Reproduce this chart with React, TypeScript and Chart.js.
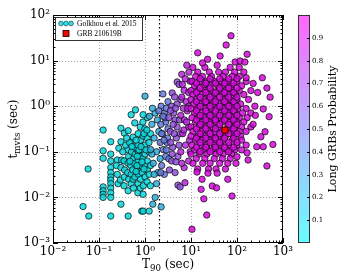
import { useEffect, useRef } from "react";
import { Chart, registerables } from "chart.js";

Chart.register(...registerables);

// ---------- axes / ticks ----------
const xMajorTicks = [0.01, 0.1, 1, 10, 100, 1000];
const yMajorTicks = [0.001, 0.01, 0.1, 1, 10, 100];
const minorMultipliers = [2, 3, 4, 5, 6, 7, 8, 9];
const colorbarTicks = [0.1, 0.2, 0.3, 0.4, 0.5, 0.6, 0.7, 0.8, 0.9];
const shortLongBoundary = 2; // T90 = 2 s

const xTitle = ["T", "90", " (sec)"];
const yTitle = ["t", "mvts", " (sec)"];
const colorbarTitle = "Long GRBs Probability";
const legendLabels = ["Golkhou et al. 2015", "GRB 210619B"];

// ---------- data: [T90 (s), t_mvts (s)] ----------
// probability of each group (colour through the "cool" colormap)
const groupProbability = [0.03, 0.22, 0.45, 0.65, 0.83, 0.97, 0.97];

const cyanPoints: [number, number][] = [
  [0.045, 0.0063], [0.06, 0.0039], [0.058, 0.042], [0.123, 0.3], [0.5, 0.65],
  [0.123, 0.105], [0.123, 0.072], [0.123, 0.017], [0.123, 0.014], [0.123, 0.0117], [0.123, 0.01],
  [0.18, 0.166], [0.18, 0.089], [0.18, 0.063], [0.18, 0.045], [0.18, 0.035], [0.18, 0.028],
  [0.18, 0.024], [0.18, 0.02], [0.18, 0.016], [0.18, 0.0126], [0.18, 0.01], [0.18, 0.0039],
  [0.25, 0.066], [0.24, 0.05], [0.25, 0.032], [0.26, 0.02],
  [0.3, 0.33], [0.3, 0.166], [0.31, 0.066], [0.3, 0.045], [0.29, 0.024], [0.3, 0.0071],
  [0.355, 0.257], [0.35, 0.063], [0.36, 0.04], [0.355, 0.028], [0.35, 0.018],
  [0.43, 0.29], [0.42, 0.112], [0.44, 0.079], [0.43, 0.056], [0.42, 0.035], [0.44, 0.025],
  [0.43, 0.014], [0.43, 0.0039],
  [0.5, 0.166], [0.51, 0.1], [0.49, 0.05], [0.5, 0.032], [0.5, 0.02],
  [0.55, 0.21], [0.56, 0.071], [0.54, 0.04], [0.55, 0.025], [0.56, 0.016],
  [0.6, 0.43], [0.6, 0.126], [0.61, 0.089], [0.59, 0.056], [0.6, 0.028],
  [0.71, 0.25], [0.7, 0.14], [0.72, 0.1], [0.71, 0.063], [0.7, 0.045], [0.72, 0.032],
  [0.71, 0.02], [0.7, 0.0126],
  [0.79, 0.35], [0.8, 0.18], [0.78, 0.079], [0.79, 0.05], [0.8, 0.025], [0.79, 0.016],
  [0.85, 0.005], [0.85, 0.112], [0.86, 0.035],
  [0.91, 0.005], [0.91, 0.0117], [0.92, 0.018], [0.9, 0.071], [0.91, 0.22], [0.9, 0.45],
  [1.0, 0.14], [1.0, 0.089], [1.01, 0.05], [1.0, 0.028], [0.99, 0.32],
  [1.12, 0.2], [1.12, 0.063], [1.13, 0.04], [1.11, 0.022], [1.12, 0.56],
  [1.23, 0.005], [1.23, 0.1], [1.22, 0.16], [1.23, 0.032],
  [1.32, 0.25], [1.32, 0.05], [1.31, 0.018],
  [0.27, 0.12], [0.33, 0.1], [0.38, 0.14], [0.46, 0.16], [0.52, 0.13], [0.64, 0.18],
  [0.68, 0.08], [0.74, 0.11], [0.82, 0.13], [0.95, 0.25], [0.4, 0.2], [0.47, 0.062],
  [0.64, 0.037], [0.67, 0.05], [0.86, 0.06], [0.95, 0.042], [1.05, 0.11], [1.1, 0.3],
  [0.62, 0.83], [0.91, 0.65],
];

const lightBluePoints: [number, number][] = [
  [1.0, 1.66], [1.48, 0.0071], [1.66, 0.01], [2.24, 0.0062], [1.41, 0.4], [1.58, 0.2],
  [1.78, 0.1], [1.51, 0.056], [1.9, 0.035], [1.66, 0.71], [2.0, 0.28], [2.14, 0.071],
  [1.41, 0.089], [1.86, 0.5], [1.78, 0.02], [1.32, 0.112], [1.58, 0.032], [1.45, 0.9],
  [1.25, 0.6],
];

const bluePoints: [number, number][] = [
  [2.45, 1.86], [2.24, 1.0], [2.63, 0.71], [2.0, 0.79], [2.82, 0.45], [2.4, 0.25],
  [3.0, 0.16], [2.51, 0.112], [2.3, 0.05], [2.82, 0.079], [3.16, 0.32], [2.14, 0.16],
  [2.63, 0.032], [3.16, 1.26], [2.7, 0.56], [3.1, 0.2],
  [2.2, 0.4], [2.9, 0.9], [2.5, 0.6], [2.3, 0.25], [2.9, 0.11], [2.6, 0.18], [3.3, 0.07],
  [2.2, 0.035],
];

const violetPoints: [number, number][] = [
  [3.9, 1.95], [5.0, 3.4], [5.5, 3.0], [3.8, 1.0], [4.2, 0.71], [4.5, 0.5], [3.55, 0.28],
  [4.8, 0.2], [4.0, 0.126], [5.2, 0.079], [3.8, 0.063], [5.2, 0.0186], [5.8, 0.017],
  [4.5, 0.035], [3.3, 0.56], [5.0, 1.12], [5.0, 0.35], [4.1, 0.4], [4.4, 1.6], [5.5, 0.14],
  [3.6, 0.8], [4.6, 0.9], [3.6, 0.16], [4.3, 0.25], [3.9, 0.09], [4.7, 0.06], [5.6, 0.5],
  [5.9, 0.25], [3.4, 0.04], [6.0, 1.4],
];

const purplePoints: [number, number][] = [
  [7.4, 0.021], [8.1, 7.9], [6.3, 5.0], [7.1, 2.24], [7.9, 1.26], [6.0, 0.63], [8.9, 0.35],
  [6.6, 0.25], [7.6, 0.14], [6.0, 0.1], [8.9, 0.063], [7.1, 0.045], [9.5, 3.55], [6.3, 1.58],
  [8.9, 2.0], [8.3, 0.79], [7.2, 0.5], [9.3, 0.18], [6.3, 0.056], [6.8, 0.9], [8.0, 0.45],
  [9.0, 1.0], [7.0, 0.3], [9.6, 0.1], [6.5, 3.0], [7.5, 4.0], [9.0, 5.6], [8.5, 0.9],
];

const magentaCore: [number, number][] = [
  [11, 7.1], [20, 7.1], [71, 7.1], [112, 7.1],
  [14, 5.6], [25, 5.6], [40, 5.6], [56, 5.6], [89, 5.6], [141, 5.6],
  [12.6, 4.5], [17.8, 4.5], [28, 4.5], [50, 4.5], [79, 4.5], [112, 4.5],
  [10.5, 3.5], [15.8, 3.5], [22, 3.5], [32, 3.5], [45, 3.5], [63, 3.5], [100, 3.5], [158, 3.5],
  [12, 2.8], [19, 2.8], [26, 2.8], [38, 2.8], [52, 2.8], [76, 2.8], [126, 2.8],
  [10, 2.2], [14, 2.2], [20, 2.2], [28, 2.2], [40, 2.2], [56, 2.2], [79, 2.2], [112, 2.2], [200, 2.2],
  [11, 1.8], [17, 1.8], [24, 1.8], [33, 1.8], [48, 1.8], [66, 1.8], [93, 1.8], [141, 1.8],
  [10, 1.4], [13, 1.4], [19, 1.4], [25, 1.4], [35, 1.4], [50, 1.4], [71, 1.4], [100, 1.4], [178, 1.4],
  [11.5, 1.12], [16, 1.12], [22, 1.12], [30, 1.12], [42, 1.12], [60, 1.12], [83, 1.12], [120, 1.12],
  [10, 0.89], [14, 0.89], [20, 0.89], [27, 0.89], [37, 0.89], [52, 0.89], [74, 0.89], [105, 0.89], [158, 0.89],
  [12, 0.71], [17, 0.71], [23, 0.71], [32, 0.71], [45, 0.71], [63, 0.71], [89, 0.71], [132, 0.71], [200, 0.71],
  [10.5, 0.56], [14.5, 0.56], [20, 0.56], [28, 0.56], [40, 0.56], [56, 0.56], [79, 0.56], [112, 0.56], [166, 0.56],
  [12.6, 0.45], [17.8, 0.45], [25, 0.45], [35, 0.45], [48, 0.45], [71, 0.45], [100, 0.45], [141, 0.45],
  [10, 0.35], [15, 0.35], [21, 0.35], [30, 0.35], [42, 0.35], [63, 0.35], [89, 0.35], [126, 0.35], [200, 0.35],
  [11, 0.28], [17, 0.28], [24, 0.28], [33, 0.28], [48, 0.28], [76, 0.28], [112, 0.28], [158, 0.28],
  [10, 0.22], [14, 0.22], [20, 0.22], [28, 0.22], [40, 0.22], [56, 0.22], [83, 0.22], [120, 0.22],
  [12.6, 0.18], [17.8, 0.18], [25, 0.18], [35, 0.18], [50, 0.18], [79, 0.18], [126, 0.18],
  [10.5, 0.14], [16, 0.14], [22, 0.14], [32, 0.14], [45, 0.14], [66, 0.14], [100, 0.14], [158, 0.14],
  [12, 0.11], [19, 0.11], [28, 0.11], [40, 0.11], [60, 0.11], [89, 0.11],
  [10, 0.089], [15, 0.089], [22, 0.089], [35, 0.089], [50, 0.089], [76, 0.089],
  [13, 0.071], [20, 0.071], [32, 0.071], [48, 0.071], [71, 0.071],
  [11, 0.056], [18, 0.056], [26, 0.056], [42, 0.056], [63, 0.056], [95, 0.056],
  [14, 0.042], [24, 0.042], [35, 0.042], [56, 0.042],
  [13.2, 3.2], [21, 3.2], [34, 3.2], [54, 3.2], [85, 3.2],
  [13.2, 2.0], [21, 2.0], [34, 2.0], [54, 2.0], [85, 2.0],
  [13.2, 1.26], [21, 1.26], [34, 1.26], [54, 1.26], [85, 1.26],
  [13.2, 0.79], [21, 0.79], [34, 0.79], [54, 0.79], [85, 0.79],
  [13.2, 0.5], [21, 0.5], [34, 0.5], [54, 0.5], [85, 0.5],
  [13.2, 0.32], [21, 0.32], [34, 0.32], [85, 0.32],
  [13.2, 0.2], [21, 0.2], [34, 0.2], [54, 0.2], [85, 0.2],
  [13.2, 0.126], [21, 0.126], [34, 0.126], [54, 0.126], [85, 0.126],
  [15.8, 4.0], [26, 4.0], [42, 4.0], [66, 4.0], [100, 4.0],
  [15.8, 2.5], [26, 2.5], [42, 2.5], [66, 2.5], [100, 2.5],
  [15.8, 1.58], [26, 1.58], [42, 1.58], [66, 1.58], [100, 1.58],
  [15.8, 1.0], [26, 1.0], [42, 1.0], [66, 1.0], [100, 1.0],
  [15.8, 0.63], [26, 0.63], [42, 0.63], [66, 0.63], [100, 0.63],
  [15.8, 0.4], [26, 0.4], [42, 0.4], [66, 0.4], [100, 0.4],
  [15.8, 0.25], [26, 0.25], [42, 0.25], [66, 0.25], [100, 0.25],
  [15.8, 0.16], [26, 0.16], [42, 0.16], [66, 0.16], [100, 0.16],
  [15.8, 0.1], [26, 0.1], [42, 0.1], [66, 0.1],
];

const magentaOutliers: [number, number][] = [
  [74, 35], [58, 22], [43, 12.6], [166, 13.8], [355, 4.2], [447, 2.5], [525, 1.58],
  [245, 1.0], [158, 4.2], [14, 14.8], [23, 10.7], [37, 7.9], [91, 9.3], [117, 9.8],
  [148, 9.3], [17.8, 8.9], [372, 0.87], [500, 0.59], [407, 0.275], [331, 0.214],
  [603, 0.145], [269, 0.129], [372, 0.129], [447, 0.049], [10.5, 0.002], [22, 0.0041],
  [19, 0.0093], [78, 0.0107], [29, 0.0178], [36, 0.0162], [63, 0.025], [16.6, 0.015],
  [13.5, 0.036], [17.4, 0.025], [23.4, 0.034], [37, 0.034], [126, 0.11], [166, 0.095],
  [174, 0.066], [100, 0.078], [224, 0.4], [251, 0.63], [282, 2.0], [224, 3.16],
];

const grb210619B: [number, number][] = [[55, 0.3]];

// ---------- helpers ----------
const SERIF = "'DejaVu Serif', serif";
const supMap: Record<string, string> = { "-": "⁻", "0": "⁰", "1": "¹", "2": "²", "3": "³", "4": "⁴", "5": "⁵", "6": "⁶", "7": "⁷", "8": "⁸", "9": "⁹" };
const powLabel = (v: number) => {
  const e = Math.round(Math.log10(v));
  return "10" + String(e).split("").map((c) => supMap[c] ?? c).join("");
};
// matplotlib "cool" colormap, with a shade factor for the marker faces
const cool = (p: number, a: number, shade = 1) =>
  `rgba(${Math.round(255 * p * shade)}, ${Math.round(255 * (1 - p) * shade)}, ${Math.round(255 * shade)}, ${a})`;

function drawParts(ctx: CanvasRenderingContext2D, parts: string[], cx: number, baseline: number, size: number) {
  const subSize = size * 0.72;
  const widths = parts.map((t, i) => {
    ctx.font = `${i === 1 ? subSize : size}px ${SERIF}`;
    return ctx.measureText(t).width;
  });
  const total = widths.reduce((s, w) => s + w, 0);
  let x = cx - total / 2;
  parts.forEach((t, i) => {
    ctx.font = `${i === 1 ? subSize : size}px ${SERIF}`;
    ctx.fillText(t, x, baseline + (i === 1 ? 3 : 0));
    x += widths[i];
  });
}

const decorPlugin = {
  id: "decor",
  beforeDatasetsDraw(chart: any) {
    const { ctx, chartArea: a, scales } = chart;
    const xs = scales.x;
    const ys = scales.y;
    ctx.save();
    ctx.strokeStyle = "#a8a8a8";
    ctx.lineWidth = 1;
    ctx.setLineDash([1, 2]);
    xMajorTicks.slice(1, -1).forEach((v) => {
      const px = Math.round(xs.getPixelForValue(v)) + 0.5;
      ctx.beginPath();
      ctx.moveTo(px, a.top);
      ctx.lineTo(px, a.bottom);
      ctx.stroke();
    });
    yMajorTicks.slice(1, -1).forEach((v) => {
      const py = Math.round(ys.getPixelForValue(v)) + 0.5;
      ctx.beginPath();
      ctx.moveTo(a.left, py);
      ctx.lineTo(a.right, py);
      ctx.stroke();
    });
    // T90 = 2 s separation
    ctx.strokeStyle = "#000";
    ctx.lineWidth = 1.2;
    ctx.setLineDash([1.5, 2.5]);
    const bx = Math.round(xs.getPixelForValue(shortLongBoundary)) + 0.5;
    ctx.beginPath();
    ctx.moveTo(bx, a.top);
    ctx.lineTo(bx, a.bottom);
    ctx.stroke();
    ctx.restore();
  },
  afterDraw(chart: any) {
    const { ctx, chartArea: a, scales } = chart;
    const xs = scales.x;
    const ys = scales.y;
    ctx.save();
    // frame
    ctx.strokeStyle = "#000";
    ctx.lineWidth = 1;
    ctx.setLineDash([]);
    ctx.strokeRect(a.left + 0.5, a.top + 0.5, a.right - a.left - 1, a.bottom - a.top - 1);
    // ticks on all four sides
    const tick = (x1: number, y1: number, x2: number, y2: number) => {
      ctx.beginPath();
      ctx.moveTo(x1, y1);
      ctx.lineTo(x2, y2);
      ctx.stroke();
    };
    xMajorTicks.forEach((v, i) => {
      const values = [v].concat(i < xMajorTicks.length - 1 ? minorMultipliers.map((m) => m * v) : []);
      values.forEach((val, j) => {
        const len = j === 0 ? 5 : 2.5;
        const px = Math.round(xs.getPixelForValue(val)) + 0.5;
        tick(px, a.bottom, px, a.bottom - len);
        tick(px, a.top, px, a.top + len);
      });
    });
    yMajorTicks.forEach((v, i) => {
      const values = [v].concat(i < yMajorTicks.length - 1 ? minorMultipliers.map((m) => m * v) : []);
      values.forEach((val, j) => {
        const len = j === 0 ? 5 : 2.5;
        const py = Math.round(ys.getPixelForValue(val)) + 0.5;
        tick(a.left, py, a.left + len, py);
        tick(a.right, py, a.right - len, py);
      });
    });

    // legend
    const lx = a.left + 2;
    const ly = a.top + 2;
    ctx.fillStyle = "rgba(255,255,255,0.9)";
    ctx.fillRect(lx, ly, 88, 24);
    ctx.strokeStyle = "#333";
    ctx.strokeRect(lx + 0.5, ly + 0.5, 87, 23);
    [0, 5, 10].forEach((dx) => {
      ctx.beginPath();
      ctx.arc(lx + 6 + dx, ly + 6.5, 2.4, 0, Math.PI * 2);
      ctx.fillStyle = cool(groupProbability[0], 0.85, 0.88);
      ctx.fill();
      ctx.strokeStyle = "rgba(0,0,0,0.75)";
      ctx.lineWidth = 0.6;
      ctx.stroke();
    });
    ctx.fillStyle = "#ff0000";
    ctx.fillRect(lx + 8, ly + 13.5, 6, 6);
    ctx.strokeStyle = "#000";
    ctx.lineWidth = 0.8;
    ctx.strokeRect(lx + 8, ly + 13.5, 6, 6);
    ctx.fillStyle = "#000";
    ctx.font = `7.5px 'Liberation Serif', serif`;
    ctx.textBaseline = "middle";
    ctx.textAlign = "left";
    ctx.fillText(legendLabels[0], lx + 22, ly + 7);
    ctx.fillText(legendLabels[1], lx + 22, ly + 17);

    // colorbar
    const cbL = a.right + 15;
    const cbW = 12;
    const grad = ctx.createLinearGradient(0, a.bottom, 0, a.top);
    grad.addColorStop(0, cool(0, 0.6));
    grad.addColorStop(1, cool(1, 0.6));
    ctx.fillStyle = grad;
    ctx.fillRect(cbL, a.top, cbW, a.bottom - a.top);
    ctx.strokeStyle = "#333";
    ctx.lineWidth = 1;
    ctx.strokeRect(cbL + 0.5, a.top + 0.5, cbW - 1, a.bottom - a.top - 1);
    ctx.font = `7px ${SERIF}`;
    ctx.fillStyle = "#000";
    colorbarTicks.forEach((p) => {
      const py = Math.round(a.bottom - p * (a.bottom - a.top)) + 0.5;
      ctx.strokeStyle = "#000";
      tick(cbL + cbW, py, cbL + cbW - 3, py);
      ctx.fillText(String(p), cbL + cbW + 2, py);
    });

    // titles
    ctx.textBaseline = "alphabetic";
    ctx.textAlign = "left";
    ctx.fillStyle = "#000";
    drawParts(ctx, xTitle, (a.left + a.right) / 2, 268, 12);
    const midY = (a.top + a.bottom) / 2;
    ctx.save();
    ctx.translate(17, midY);
    ctx.rotate(-Math.PI / 2);
    drawParts(ctx, yTitle, 0, 0, 12);
    ctx.restore();
    ctx.save();
    ctx.translate(336, midY);
    ctx.rotate(-Math.PI / 2);
    ctx.font = `11px ${SERIF}`;
    ctx.textAlign = "center";
    ctx.fillText(colorbarTitle, 0, 0);
    ctx.restore();
    ctx.restore();
  },
};

const toXY = (arr: [number, number][]) => arr.map(([x, y]) => ({ x, y }));

function scatterSet(arr: [number, number][], p: number) {
  return {
    data: toXY(arr),
    backgroundColor: cool(p, 0.85, 0.86),
    borderColor: "rgba(10,10,10,0.8)",
    borderWidth: 0.9,
    pointRadius: 3.2,
    pointHoverRadius: 3.2,
  };
}

export default function App() {
  const ref = useRef<HTMLCanvasElement>(null);
  useEffect(() => {
    const canvas = ref.current;
    if (!canvas) return;
    const chart = new Chart(canvas, {
      type: "scatter",
      data: {
        datasets: [
          {
            data: toXY(grb210619B),
            backgroundColor: "#ff0000",
            borderColor: "#000",
            borderWidth: 0.8,
            pointStyle: "rect",
            pointRadius: 4.3,
          },
          scatterSet(magentaOutliers, groupProbability[6]),
          scatterSet(magentaCore, groupProbability[5]),
          scatterSet(purplePoints, groupProbability[4]),
          scatterSet(violetPoints, groupProbability[3]),
          scatterSet(bluePoints, groupProbability[2]),
          scatterSet(lightBluePoints, groupProbability[1]),
          scatterSet(cyanPoints, groupProbability[0]),
        ] as any,
      },
      options: {
        responsive: false,
        animation: false,
        devicePixelRatio: 1,
        events: [],
        layout: { padding: { left: 0, right: 67, top: 15, bottom: 0 } },
        plugins: { legend: { display: false }, tooltip: { enabled: false } },
        scales: {
          x: {
            type: "logarithmic",
            min: 0.01,
            max: 1000,
            afterBuildTicks: (s: any) => {
              s.ticks = xMajorTicks.map((v) => ({ value: v }));
            },
            afterFit: (s: any) => {
              s.height = 37;
            },
            grid: { display: false, drawTicks: false },
            border: { display: false },
            ticks: {
              autoSkip: false,
              maxRotation: 0,
              padding: 2,
              color: "#000",
              font: { family: SERIF, size: 12 },
              callback: (v: any) => powLabel(Number(v)),
            },
          },
          y: {
            type: "logarithmic",
            min: 0.001,
            max: 100,
            afterBuildTicks: (s: any) => {
              s.ticks = yMajorTicks.map((v) => ({ value: v }));
            },
            afterFit: (s: any) => {
              s.width = 53;
            },
            grid: { display: false, drawTicks: false },
            border: { display: false },
            ticks: {
              autoSkip: false,
              padding: 3,
              color: "#000",
              font: { family: SERIF, size: 12 },
              callback: (v: any) => powLabel(Number(v)),
            },
          },
        },
      } as any,
      plugins: [decorPlugin],
    });
    return () => chart.destroy();
  }, []);
  return (
    <div style={{ position: "fixed", left: 0, top: 0, width: 350, height: 280, background: "#fff" }}>
      <canvas ref={ref} width={350} height={280} style={{ display: "block" }} />
    </div>
  );
}
